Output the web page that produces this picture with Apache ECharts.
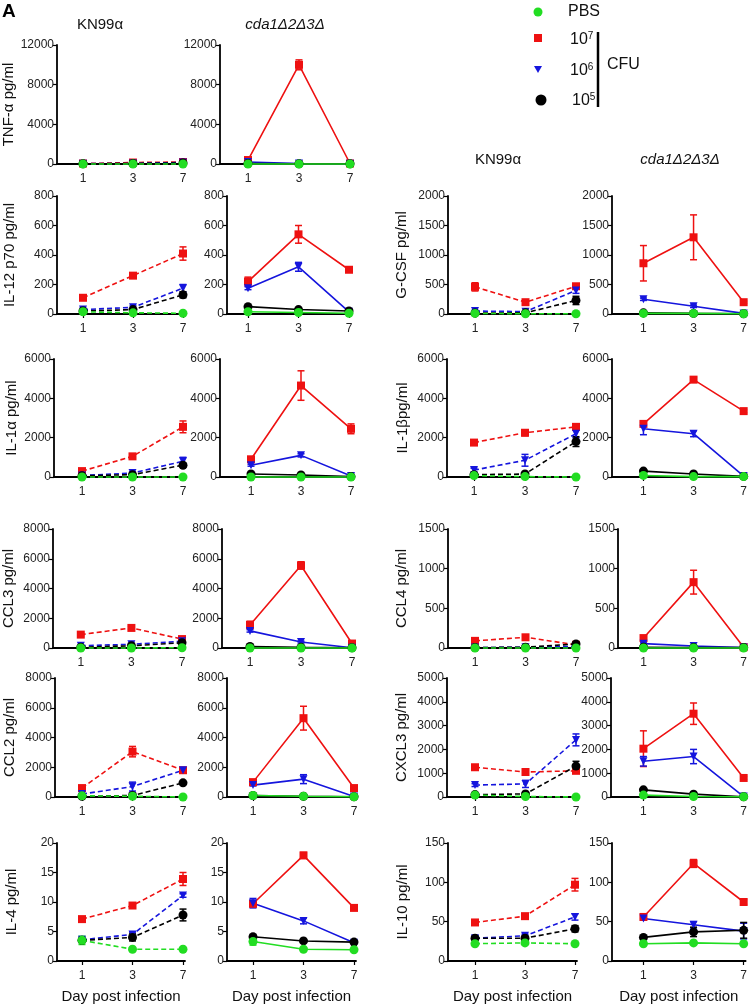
<!DOCTYPE html>
<html><head><meta charset="utf-8">
<script src="https://cdn.jsdelivr.net/npm/echarts@6/dist/echarts.min.js"></script>
<style>html,body{margin:0;padding:0;background:#fff}#c{width:750px;height:1005px}</style>
</head><body><div id="c"></div><script>
// ---- data ----
const days = ['1', '3', '7'];
const groups = ['PBS', '10^7', '10^6', '10^5'];
// each panel: [PBS, 10^7, 10^6, 10^5] x [day1, day3, day7]
const TNF_KN = [[0,0,0],[50,150,200],[30,60,150],[20,50,100]];
const TNF_KN_SD = [[0,0,0],[0,0,0],[0,0,0],[0,0,0]];
const TNF_CDA = [[0,0,0],[400,10000,50],[200,50,30],[50,20,20]];
const TNF_CDA_SD = [[0,0,0],[100,500,0],[0,0,0],[0,0,0]];
const IL12_KN = [[15,8,5],[110,260,410],[30,45,175],[20,30,130]];
const IL12_KN_SD = [[0,0,0],[10,15,45],[10,10,25],[5,5,20]];
const IL12_CDA = [[15,10,5],[220,540,300],[175,320,15],[50,30,20]];
const IL12_CDA_SD = [[0,0,0],[30,60,15],[10,30,5],[5,5,3]];
const GCSF_KN = [[10,5,5],[460,200,470],[50,40,400],[15,20,230]];
const GCSF_KN_SD = [[0,0,0],[70,25,40],[15,10,50],[5,5,70]];
const GCSF_CDA = [[10,10,5],[860,1300,200],[250,130,10],[20,10,5]];
const GCSF_CDA_SD = [[0,0,0],[300,380,20],[20,20,3],[0,0,0]];
const IL1A_KN = [[0,0,0],[300,1050,2550],[80,200,800],[60,120,600]];
const IL1A_KN_SD = [[0,0,0],[50,80,300],[20,50,200],[10,20,100]];
const IL1A_CDA = [[0,0,0],[900,4650,2450],[600,1100,50],[150,100,20]];
const IL1A_CDA_SD = [[0,0,0],[100,750,250],[50,80,10],[0,0,0]];
const IL1B_KN = [[70,20,0],[1750,2250,2550],[350,850,2200],[120,150,1800]];
const IL1B_KN_SD = [[0,0,0],[80,150,150],[100,300,200],[20,30,250]];
const IL1B_CDA = [[80,20,20],[2700,4950,3350],[2450,2200,50],[300,150,30]];
const IL1B_CDA_SD = [[0,0,0],[100,100,80],[300,150,10],[30,20,5]];
const CCL3_KN = [[0,0,20],[900,1350,600],[150,250,450],[50,150,350]];
const CCL3_KN_SD = [[0,0,0],[80,100,100],[30,50,100],[10,30,100]];
const CCL3_CDA = [[0,0,0],[1550,5550,300],[1150,400,20],[100,50,20]];
const CCL3_CDA_SD = [[0,0,0],[250,250,50],[80,60,5],[0,0,0]];
const CCL4_KN = [[0,0,0],[90,135,40],[5,10,20],[5,10,50]];
const CCL4_KN_SD = [[0,0,0],[10,15,10],[0,0,0],[0,0,10]];
const CCL4_CDA = [[0,0,0],[125,830,10],[55,25,5],[10,5,5]];
const CCL4_CDA_SD = [[0,0,0],[15,150,3],[10,5,0],[0,0,0]];
const CCL2_KN = [[80,50,0],[600,3050,1800],[200,700,1800],[50,100,950]];
const CCL2_KN_SD = [[0,0,0],[80,350,150],[50,300,100],[10,20,80]];
const CCL2_CDA = [[100,50,20],[1000,5300,600],[800,1200,30],[100,50,20]];
const CCL2_CDA_SD = [[0,0,0],[150,800,80],[60,300,10],[0,0,0]];
const CXCL3_KN = [[80,20,0],[1250,1050,1100],[500,550,2400],[100,130,1300]];
const CXCL3_KN_SD = [[0,0,0],[60,100,100],[60,150,250],[20,30,200]];
const CXCL3_CDA = [[80,20,10],[2030,3500,800],[1500,1700,20],[300,120,10]];
const CXCL3_CDA_SD = [[0,0,0],[750,450,60],[200,300,5],[30,20,3]];
const IL4_KN = [[3.5,2.0,2.0],[7.1,9.4,13.9],[3.6,4.5,11.1],[3.5,4.0,7.8]];
const IL4_KN_SD = [[0.7,0.1,0.1],[0.3,0.3,1.1],[0.3,0.4,0.3],[0.3,0.6,1.0]];
const IL4_CDA = [[3.3,2.0,1.9],[9.7,17.9,9.0],[9.8,6.8,3.1],[4.1,3.4,3.2]];
const IL4_CDA_SD = [[0.6,0.1,0.1],[0.5,0.5,0.4],[0.8,0.5,0.2],[0.4,0.2,0.2]];
const IL10_KN = [[22,23,22],[49,57,97],[29,32,56],[29,29,41]];
const IL10_KN_SD = [[0,0,0],[2,3,8],[2,2,4],[3,3,4]];
const IL10_CDA = [[22,23,22],[56,124,75],[54,46,38],[30,37,39]];
const IL10_CDA_SD = [[0,0,0],[2,5,3],[2,4,10],[2,6,10]];

// ---- layout ----
const FONT = 'Arial, "Liberation Sans", Helvetica, sans-serif';
const panels = [
  {d:TNF_KN, e:TNF_KN_SD, max:12000, step:4000, dash:true, ax:57, top:45, bot:164, p1:83, p7:183, name:'TNF-α pg/ml', nx:10},
  {d:TNF_CDA, e:TNF_CDA_SD, max:12000, step:4000, dash:false, ax:220, top:45, bot:164, p1:248, p7:350},
  {d:IL12_KN, e:IL12_KN_SD, max:800, step:200, dash:true, ax:57, top:196, bot:314, p1:83, p7:183, name:'IL-12 p70 pg/ml', nx:10},
  {d:IL12_CDA, e:IL12_CDA_SD, max:800, step:200, dash:false, ax:227, top:196, bot:314, p1:248, p7:349},
  {d:GCSF_KN, e:GCSF_KN_SD, max:2000, step:500, dash:true, ax:448, top:196, bot:314, p1:475, p7:576, name:'G-CSF pg/ml', nx:402},
  {d:GCSF_CDA, e:GCSF_CDA_SD, max:2000, step:500, dash:false, ax:612, top:196, bot:314, p1:644, p7:746},
  {d:IL1A_KN, e:IL1A_KN_SD, max:6000, step:2000, dash:true, ax:54, top:359, bot:477, p1:82, p7:183, name:'IL-1α pg/ml', nx:12},
  {d:IL1A_CDA, e:IL1A_CDA_SD, max:6000, step:2000, dash:false, ax:220, top:359, bot:477, p1:251, p7:351},
  {d:IL1B_KN, e:IL1B_KN_SD, max:6000, step:2000, dash:true, ax:447, top:359, bot:477, p1:474, p7:576, name:'IL-1βpg/ml', nx:403},
  {d:IL1B_CDA, e:IL1B_CDA_SD, max:6000, step:2000, dash:false, ax:612, top:359, bot:477, p1:644, p7:746},
  {d:CCL3_KN, e:CCL3_KN_SD, max:8000, step:2000, dash:true, ax:52, top:529, bot:648, p1:80, p7:182, name:'CCL3 pg/ml', nx:8},
  {d:CCL3_CDA, e:CCL3_CDA_SD, max:8000, step:2000, dash:false, ax:222, top:529, bot:648, p1:250, p7:352},
  {d:CCL4_KN, e:CCL4_KN_SD, max:1500, step:500, dash:true, ax:448, top:529, bot:648, p1:475, p7:576, name:'CCL4 pg/ml', nx:402},
  {d:CCL4_CDA, e:CCL4_CDA_SD, max:1500, step:500, dash:false, ax:618, top:529, bot:648, p1:644, p7:746},
  {d:CCL2_KN, e:CCL2_KN_SD, max:8000, step:2000, dash:true, ax:55, top:678, bot:797, p1:82, p7:183, name:'CCL2 pg/ml', nx:10},
  {d:CCL2_CDA, e:CCL2_CDA_SD, max:8000, step:2000, dash:false, ax:227, top:678, bot:797, p1:253, p7:354},
  {d:CXCL3_KN, e:CXCL3_KN_SD, max:5000, step:1000, dash:true, ax:447, top:678, bot:797, p1:475, p7:576, name:'CXCL3 pg/ml', nx:402},
  {d:CXCL3_CDA, e:CXCL3_CDA_SD, max:5000, step:1000, dash:false, ax:611, top:678, bot:797, p1:644, p7:746},
  {d:IL4_KN, e:IL4_KN_SD, max:20, step:5, dash:true, ax:57, top:843, bot:962, p1:82, p7:183, name:'IL-4 pg/ml', nx:12, xname:true},
  {d:IL4_CDA, e:IL4_CDA_SD, max:20, step:5, dash:false, ax:227, top:843, bot:962, p1:253, p7:354, xname:true},
  {d:IL10_KN, e:IL10_KN_SD, max:150, step:50, dash:true, ax:448, top:843, bot:962, p1:475, p7:575, name:'IL-10 pg/ml', nx:403, xname:true},
  {d:IL10_CDA, e:IL10_CDA_SD, max:150, step:50, dash:false, ax:612, top:843, bot:962, p1:644, p7:746, xname:true}
];

const colors = ['#22dd22', '#ee1111', '#1515dd', '#000000'];
const symbols = ['circle', 'rect', 'triangle', 'circle'];
const sizes = [9, 8, 8, 9];
const rots = [0, 0, 180, 0];
const drawOrder = [1, 2, 3, 0];

const grids = [], xAxes = [], yAxes = [], series = [];
const axisLineStyle = {color: '#000', width: 1.8};
panels.forEach((p, i) => {
  const s = (p.p7 - p.p1) / 2;
  grids.push({left: p.ax, top: p.top, height: p.bot - p.top, width: p.p7 + 2 - p.ax});
  xAxes.push({
    gridIndex: i, type: 'value', min: -(p.p1 - p.ax) / s, max: 2 + 2 / s,
    axisLine: {show: true, onZero: false, lineStyle: axisLineStyle},
    axisTick: {show: true, length: 4, customValues: [0, 1, 2], lineStyle: {color: '#000', width: 1.2}},
    axisLabel: {customValues: [0, 1, 2], formatter: v => days[Math.round(v)], fontSize: 12, color: '#222', margin: 9, fontFamily: FONT},
    splitLine: {show: false},
    name: p.xname ? 'Day post infection' : '', nameLocation: 'middle', nameGap: 28,
    nameTextStyle: {fontSize: 15, color: '#111', fontFamily: FONT}
  });
  yAxes.push({
    gridIndex: i, type: 'value', min: 0, max: p.max, interval: p.step,
    axisLine: {show: true, onZero: false, lineStyle: axisLineStyle},
    axisTick: {show: true, length: 4, lineStyle: {color: '#000', width: 1.2}},
    axisLabel: {fontSize: 12, color: '#222', margin: 3, fontFamily: FONT, formatter: v => String(v)},
    splitLine: {show: false},
    name: p.name || '', nameLocation: 'middle', nameGap: p.name ? (p.ax - p.nx - 7) : 0,
    nameTextStyle: {fontSize: 15, color: '#111', fontFamily: FONT}
  });
  drawOrder.forEach(g => {
    const err = [];
    p.d[g].forEach((v, k) => { const e = p.e[g][k]; if (e > 0) err.push([k, v - e, v + e]); });
    if (err.length) {
      series.push({
        type: 'custom', xAxisIndex: i, yAxisIndex: i, z: 2, data: err, silent: true,
        renderItem: (params, api) => {
          const x = api.value(0);
          const a = api.coord([x, api.value(1)]), b = api.coord([x, api.value(2)]);
          const w = 3.5, st = {stroke: colors[g], lineWidth: 1.5};
          return {type: 'group', children: [
            {type: 'line', shape: {x1: a[0], y1: a[1], x2: b[0], y2: b[1]}, style: st},
            {type: 'line', shape: {x1: a[0] - w, y1: a[1], x2: a[0] + w, y2: a[1]}, style: st},
            {type: 'line', shape: {x1: b[0] - w, y1: b[1], x2: b[0] + w, y2: b[1]}, style: st}
          ]};
        }
      });
    }
    series.push({
      type: 'line', name: groups[g], xAxisIndex: i, yAxisIndex: i, z: 3,
      data: p.d[g].map((v, k) => [k, v]),
      symbol: symbols[g], symbolSize: sizes[g], symbolRotate: rots[g], showSymbol: true,
      itemStyle: {color: colors[g], opacity: 1},
      lineStyle: {color: colors[g], width: 1.6, type: p.dash ? [5, 3] : 'solid'},
      clip: false, silent: true
    });
  });
});

const titleStyle = {fontSize: 15, fill: '#111', fontFamily: FONT};
const supRich = {s: {fontSize: 10, verticalAlign: 'top', padding: [0, 0, 8, 0], fill: '#111', fontFamily: FONT}};
const graphic = [
  {type: 'text', left: 2, top: 2, style: {text: 'A', fontSize: 19, fontWeight: 'bold', fill: '#000', fontFamily: FONT}},
  {type: 'text', x: 100, y: 25, style: Object.assign({text: 'KN99α', textAlign: 'center', textVerticalAlign: 'middle'}, titleStyle)},
  {type: 'text', x: 285, y: 25, style: Object.assign({text: 'cda1Δ2Δ3Δ', fontStyle: 'italic', textAlign: 'center', textVerticalAlign: 'middle'}, titleStyle)},
  {type: 'text', x: 498, y: 160, style: Object.assign({text: 'KN99α', textAlign: 'center', textVerticalAlign: 'middle'}, titleStyle)},
  {type: 'text', x: 680, y: 160, style: Object.assign({text: 'cda1Δ2Δ3Δ', fontStyle: 'italic', textAlign: 'center', textVerticalAlign: 'middle'}, titleStyle)},
  // legend
  {type: 'circle', shape: {cx: 538, cy: 12, r: 4.5}, style: {fill: colors[0]}},
  {type: 'rect', shape: {x: 534, y: 34, width: 8, height: 8}, style: {fill: colors[1]}},
  {type: 'polygon', shape: {points: [[534, 66], [542, 66], [538, 73]]}, style: {fill: colors[2]}},
  {type: 'circle', shape: {cx: 541, cy: 100, r: 5.5}, style: {fill: colors[3]}},
  {type: 'text', x: 568, y: 12, style: {text: 'PBS', fontSize: 16, fill: '#111', fontFamily: FONT, textVerticalAlign: 'middle'}},
  {type: 'text', x: 570, y: 40, style: {text: '10{s|7}', rich: supRich, fontSize: 16, fill: '#111', fontFamily: FONT, textVerticalAlign: 'middle'}},
  {type: 'text', x: 570, y: 71, style: {text: '10{s|6}', rich: supRich, fontSize: 16, fill: '#111', fontFamily: FONT, textVerticalAlign: 'middle'}},
  {type: 'text', x: 572, y: 101, style: {text: '10{s|5}', rich: supRich, fontSize: 16, fill: '#111', fontFamily: FONT, textVerticalAlign: 'middle'}},
  {type: 'line', shape: {x1: 598, y1: 32, x2: 598, y2: 107}, style: {stroke: '#000', lineWidth: 2.5}},
  {type: 'text', x: 607, y: 65, style: {text: 'CFU', fontSize: 16, fill: '#111', fontFamily: FONT, textVerticalAlign: 'middle'}}
];

const chart = echarts.init(document.getElementById('c'), null, {renderer: 'canvas'});
chart.setOption({
  animation: false,
  backgroundColor: '#fff',
  grid: grids, xAxis: xAxes, yAxis: yAxes, series: series, graphic: graphic
});
</script></body></html>
